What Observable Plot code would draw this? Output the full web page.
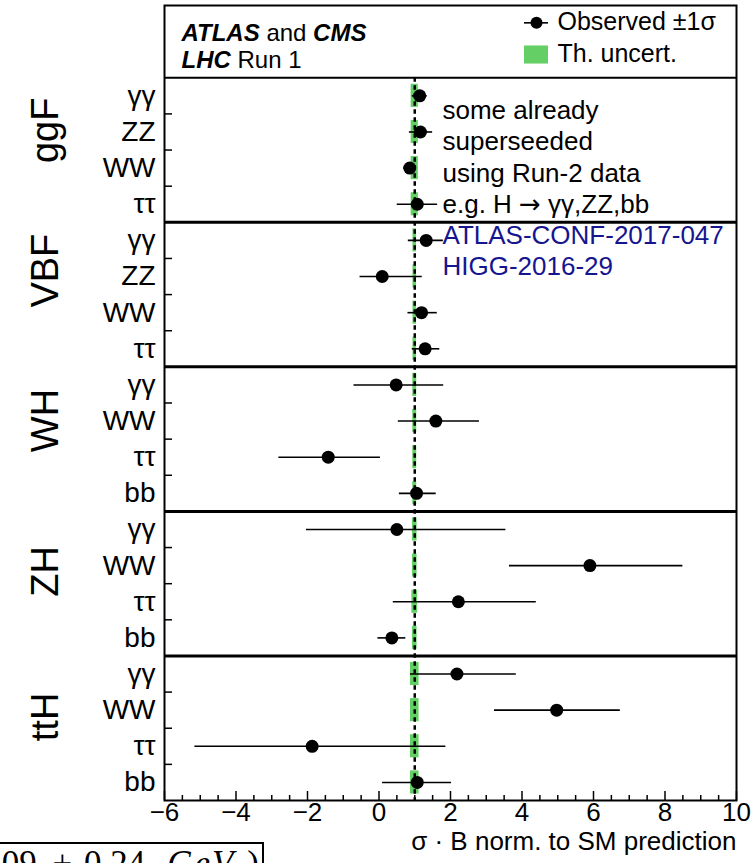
<!DOCTYPE html>
<html>
<head>
<meta charset="utf-8">
<script src="https://cdn.jsdelivr.net/npm/d3@7"></script>
<script src="https://cdn.jsdelivr.net/npm/@observablehq/plot@0.6"></script>
<style>
  html, body { margin: 0; padding: 0; background: #fff; }
  #wrap { position: relative; width: 754px; height: 863px; overflow: hidden; background: #fff; }
  #mass { position: absolute; left: -240px; top: 842px; width: 504px; height: 60px;
          border: 2px solid #000; box-sizing: border-box; background: #fff;
          font-family: "Liberation Serif", "DejaVu Serif", serif; font-size: 35px; line-height: 35px;
          text-align: right; padding-right: 3px; padding-top: 2px; white-space: nowrap; color: #000; }
  #mass i.gev { letter-spacing: 2px; }
</style>
</head>
<body>
<div id="wrap"><div id="chart"></div><div id="mass">(<i>m</i><sub style="font-size:20px">H</sub> = 125.09<span style="margin:0 12px 0 16px">±</span>0.24<i class="gev" style="margin-left:22px">GeV</i><span style="margin-left:12px">)</span></div></div>
<script>
// ---- data ----
const processes = ["ggF", "VBF", "WH", "ZH", "ttH"];
const decays = [
  ["γγ", "ZZ", "WW", "ττ"],
  ["γγ", "ZZ", "WW", "ττ"],
  ["γγ", "WW", "ττ", "bb"],
  ["γγ", "WW", "ττ", "bb"],
  ["γγ", "WW", "ττ", "bb"]
];
const observed = [1.14, 1.16, 0.86, 1.07,   1.32, 0.09, 1.19, 1.29,   0.48, 1.59, -1.42, 1.05,   0.50, 5.90, 2.22, 0.36,   2.18, 4.97, -1.87, 1.07];
const lower    = [0.93, 0.85, 0.69, 0.51,   0.82, -0.53, 0.81, 0.93,  -0.70, 0.54, -2.80, 0.57,  -2.03, 3.65, 0.40, -0.03,  0.88, 3.23, -5.15, 0.10];
const upper    = [1.35, 1.50, 1.02, 1.64,   1.80, 1.21, 1.63, 1.70,   1.81, 2.81, 0.04, 1.60,    3.55, 8.50, 4.40, 0.75,   3.84, 6.75, 1.87, 2.03];
const theoryUnc = [0.10, 0.10, 0.10, 0.10,  0.05, 0.05, 0.05, 0.05,   0.055, 0.055, 0.055, 0.055, 0.065, 0.065, 0.08, 0.065, 0.12, 0.12, 0.12, 0.12];
const smPrediction = 1;
const xTicks = [-6, -4, -2, 0, 2, 4, 6, 8, 10];
const xLabel = "σ · B norm. to SM prediction";
const noteLines = ["some already", "superseeded", "using Run-2 data", "e.g. H → γγ,ZZ,bb"];
const refLines = ["ATLAS-CONF-2017-047", "HIGG-2016-29"];
const legendTitle = ["ATLAS and CMS", "LHC Run 1"];
const legendLabels = ["Observed ±1σ", "Th. uncert."];

// ---- build table ----
const rows = [];
processes.forEach((p, pi) => decays[pi].forEach((c, ci) => {
  const k = pi * 4 + ci;
  rows.push({process: p, channel: c, row: k + 0.5, obs: observed[k], lo: lower[k], hi: upper[k], th: theoryUnc[k]});
}));
const nRows = rows.length;
const sectionEdges = processes.slice(1).map((_, i) => (i + 1) * 4);
const rowEdges = d3.range(1, nRows).filter(v => v % 4 !== 0);
const procCenters = processes.map((p, i) => ({process: p, y: i * 4 + 2}));
const minorX = d3.range(-6, 10.001, 0.5);

const green = "#64cf64";
const blue = "#15158f";
const rowPx = 36.15;   // pixel height of one row
const xPx = 35.75;     // pixels per x unit

const chart = Plot.plot({
  width: 754,
  height: 863,
  marginLeft: 164,
  marginRight: 18,
  marginTop: 5,
  marginBottom: 63,
  style: {fontFamily: "'Liberation Sans', Arial, Helvetica, sans-serif", background: "#fff", color: "#000", overflow: "hidden"},
  x: {domain: [-6, 10], axis: null},
  y: {domain: [nRows, -2], axis: null},
  marks: [
    Plot.rect(rows, {x1: d => smPrediction - d.th, x2: d => smPrediction + d.th, y1: d => d.row - 0.32, y2: d => d.row + 0.32, fill: green}),
    Plot.ruleX([smPrediction], {y1: 0, y2: nRows, stroke: "#000", strokeWidth: 2.5, strokeDasharray: "4.5,3.5"}),
    Plot.ruleY(rows, {y: "row", x1: "lo", x2: "hi", stroke: "#000", strokeWidth: 1.6}),
    Plot.dot(rows, {x: "obs", y: "row", r: 6.5, fill: "#000", stroke: "none"}),
    Plot.ruleY(sectionEdges, {stroke: "#000", strokeWidth: 3}),
    Plot.ruleY([0], {stroke: "#000", strokeWidth: 2}),
    Plot.ruleY(rowEdges, {x1: -6, x2: -6 + 8 / xPx, stroke: "#000", strokeWidth: 1.5}),
    Plot.ruleX(minorX, {y1: nRows, y2: d => nRows - ((d % 2 === 0) ? 9 : 5) / rowPx, stroke: "#000", strokeWidth: 1.5}),
    Plot.frame({stroke: "#000", strokeWidth: 2}),
    Plot.text(xTicks, {x: d => d, text: d => (d < 0 ? "\u2212" + Math.abs(d) : String(d)), frameAnchor: "bottom", dy: 20, fontSize: 26, fill: "#000"}),
    Plot.text([xLabel], {frameAnchor: "bottom-right", dy: 49, textAnchor: "end", fontSize: 26, fill: "#000"}),
    Plot.text(rows, {y: "row", text: "channel", frameAnchor: "left", dx: -9, textAnchor: "end", fontSize: 28, fill: "#000"}),
    Plot.text(procCenters, {y: "y", text: "process", frameAnchor: "left", dx: -119, dy: 13, rotate: -90, fontSize: 38, fill: "#000"}),
    Plot.text(legendTitle, {x: -6 + 17 / xPx, y: (d, i) => -1.23 + i * 0.75, text: d => d, textAnchor: "start", fontSize: 24, fill: "#000"}),
    Plot.ruleY([-1.52], {x1: -6 + 360 / xPx, x2: -6 + 384 / xPx, stroke: "#000", strokeWidth: 1.6}),
    Plot.dot([-1.52], {x: -6 + 372 / xPx, y: d => d, r: 6, fill: "#000", stroke: "none"}),
    Plot.rect([-0.63], {x1: -6 + 360 / xPx, x2: -6 + 384 / xPx, y1: d => d - 0.25, y2: d => d + 0.25, fill: green}),
    Plot.text(legendLabels, {x: -6 + 393 / xPx, y: (d, i) => i === 0 ? -1.55 : -0.66, text: d => d, textAnchor: "start", fontSize: 25, fill: "#000"}),
    Plot.text(noteLines, {x: -6 + 278 / xPx, y: (d, i) => 0.91 + i * 0.865, text: d => d, textAnchor: "start", fontSize: 26, fill: "#000"}),
    Plot.text(refLines, {x: -6 + 278 / xPx, y: (d, i) => 4.37 + i * 0.86, text: d => d, textAnchor: "start", fontSize: 26, fill: blue}),
    Plot.text(["JHEP 08 (2016) 045 pgy"], {x: 10, y: -2.54, text: d => d, textAnchor: "end", fontSize: 26, fill: blue})
  ]
});

// rich text: bold italic experiment names, wider arrow glyph
const NS = "http://www.w3.org/2000/svg";
chart.querySelectorAll("text").forEach(t => {
  const s = t.textContent;
  let rich = null;
  if (s === "ATLAS and CMS") rich = [["ATLAS", "b"], [" and ", ""], ["CMS", "b"]];
  else if (s === "LHC Run 1") rich = [["LHC", "b"], [" Run 1", ""]];
  else if (s.includes("→")) { const [a, b] = s.split("→"); rich = [[a, ""], ["→", "arrow"], [b, ""]]; }
  if (!rich) return;
  t.textContent = "";
  rich.forEach(([str, kind]) => {
    const ts = document.createElementNS(NS, "tspan");
    ts.textContent = str;
    if (kind === "b") { ts.setAttribute("font-weight", "bold"); ts.setAttribute("font-style", "italic"); }
    if (kind === "arrow") { ts.setAttribute("font-family", "'DejaVu Sans', sans-serif"); }
    t.appendChild(ts);
  });
});

document.getElementById("chart").appendChild(chart);
</script>
</body>
</html>
